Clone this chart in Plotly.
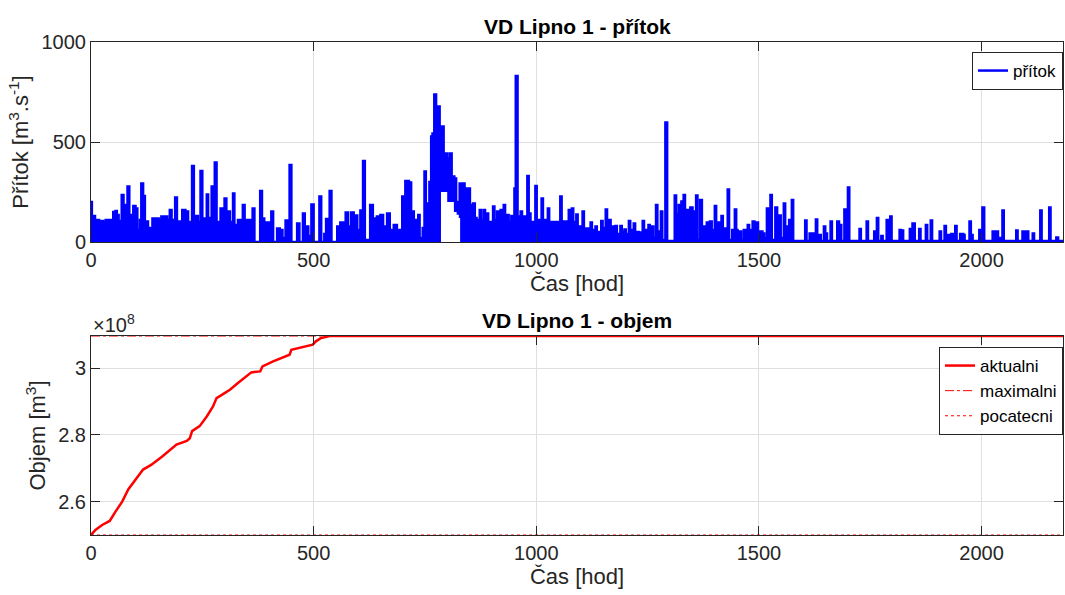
import plotly.graph_objects as go

# ---------------- DATA ----------------
# Inflow (přítok): (hour, m3/s) knots, step-held
inflow_0_360 = [
    (0, 200), (2, 110), (5, 130), (9, 20), (12, 110), (18, 0), (20, 105), (27, 100), (31, 15), (33, 110),
    (40, 95), (44, 110), (48, 20), (50, 150), (55, 155), (58, 135), (62, 60), (66, 105), (69, 235), (73, 100),
    (76, 185), (80, 130), (82, 277), (86, 135), (90, 100), (95, 180), (100, 168), (104, 40), (107, 60), (110, 110),
    (113, 293), (117, 230), (121, 100), (124, 102), (128, 60), (132, 70), (138, 118), (144, 30), (147, 118), (152, 110),
    (158, 127), (164, 0), (166, 127), (171, 110), (177, 160), (181, 110), (189, 222), (193, 30), (196, 102), (202, 0),
    (205, 160), (212, 152), (218, 100), (226, 15), (227, 380), (231, 50), (234, 130), (240, 100), (246, 355), (250, 60),
    (252, 118), (258, 110), (260, 238), (263, 118), (266, 120), (271, 277), (275, 130), (278, 397), (282, 30), (286, 100),
    (291, 168), (296, 110), (300, 218), (304, 60), (306, 152), (312, 100), (319, 243), (322, 85), (326, 60), (330, 110),
    (336, 95), (341, 185), (345, 0), (347, 110), (353, 110),
]
inflow_360_720 = [
    (357, 110), (360, 0), (363, 168), (367, 0), (372, 0), (380, 255), (384, 118), (389, 97), (397, 97), (405, 152),
    (409, 0), (413, 0), (418, 68), (424, 60), (430, 20), (437, 107), (446, 385), (450, 0), (456, 0), (463, 93),
    (468, 0), (476, 143), (480, 0), (484, 77), (488, 30), (495, 188), (500, 0), (505, 0), (513, 227), (517, 0),
    (524, 40), (528, 115), (536, 255), (540, 0), (550, 0), (553, 77), (560, 97), (567, 60), (572, 148), (577, 77),
    (584, 148), (590, 132), (598, 60), (605, 158), (611, 405), (615, 0), (620, 10), (627, 185), (633, 118), (642, 127),
    (650, 135), (656, 77), (665, 143), (671, 60), (680, 85), (687, 60), (699, 227), (706, 305), (714, 298), (719, 100),
]
inflow_720_1090 = [
    (722, 152), (725, 100), (728, 110), (731, 60), (735, 135), (738, 20), (745, 70), (749, 352), (752, 193), (756, 77),
    (760, 300), (764, 527), (767, 543), (771, 738), (775, 668), (779, 677), (783, 560), (788, 577), (792, 443), (800, 418),
    (806, 443), (810, 327), (816, 318), (820, 200), (824, 143), (828, 293), (833, 200), (835, 293), (839, 268), (846, 268),
    (851, 185), (858, 193), (862, 120), (866, 110), (873, 160), (876, 110), (882, 160), (885, 110), (889, 143), (892, 100),
    (903, 177), (906, 110), (912, 152), (915, 110), (920, 160), (923, 110), (927, 185), (930, 100), (935, 135), (938, 100),
    (944, 130), (947, 90), (951, 268), (954, 830), (958, 127), (961, 100), (965, 152), (968, 100), (972, 127), (975, 100),
    (980, 330), (983, 100), (984, 143), (987, 100), (998, 280), (1001, 110), (1012, 218), (1015, 110), (1026, 168), (1029, 100),
    (1043, 85), (1045, 100), (1054, 227), (1057, 102), (1073, 160), (1076, 100), (1080, 168), (1083, 100),
]
inflow_1090_1450 = [
    (1090, 138), (1093, 70), (1097, 77), (1104, 152), (1107, 68), (1114, 68), (1122, 97), (1125, 60), (1133, 77), (1136, 50),
    (1146, 105), (1149, 70), (1156, 163), (1159, 110), (1164, 110), (1167, 60), (1172, 77), (1178, 80), (1181, 40), (1189, 80),
    (1192, 50), (1198, 63), (1201, 40), (1208, 105), (1211, 60), (1219, 93), (1222, 50), (1230, 48), (1239, 105), (1242, 60),
    (1252, 85), (1255, 50), (1260, 77), (1263, 20), (1269, 185), (1272, 50), (1276, 52), (1280, 152), (1283, 10), (1290, 598),
    (1294, 5), (1311, 232), (1314, 140), (1320, 185), (1326, 202), (1331, 235), (1334, 160), (1337, 160), (1346, 173), (1351, 152),
    (1355, 60), (1359, 232), (1362, 10), (1368, 210), (1372, 77), (1383, 97), (1390, 102), (1394, 60), (1401, 180), (1404, 97),
    (1409, 97), (1416, 130), (1419, 68), (1423, 68), (1426, 20), (1430, 263), (1433, 10), (1440, 60), (1446, 163), (1449, 60),
]
inflow_1450_1820 = [
    (1452, 52), (1460, 10), (1466, 60), (1472, 40), (1475, 85), (1478, 50), (1482, 60), (1486, 102), (1490, 70), (1494, 97),
    (1498, 50), (1503, 52), (1508, 43), (1512, 20), (1518, 168), (1521, 40), (1526, 235), (1529, 10), (1537, 173), (1541, 130),
    (1546, 132), (1549, 20), (1556, 193), (1559, 70), (1564, 77), (1568, 110), (1574, 210), (1577, 5), (1604, 107), (1607, 5),
    (1614, 43), (1617, 5), (1622, 43), (1625, 20), (1628, 113), (1631, 5), (1636, 35), (1639, 5), (1646, 77), (1649, 43),
    (1653, 5), (1661, 102), (1664, 5), (1676, 102), (1680, 85), (1685, 5), (1692, 163), (1700, 272), (1703, 5), (1726, 65),
    (1729, 5), (1742, 102), (1745, 5), (1759, 52), (1765, 120), (1768, 5), (1775, 30), (1778, 5), (1787, 110), (1790, 40),
    (1795, 127), (1798, 5), (1816, 60), (1819, 5),
]
inflow_1820_2184 = [
    (1821, 57), (1824, 5), (1839, 65), (1845, 93), (1850, 5), (1860, 65), (1863, 5), (1875, 85), (1878, 5), (1886, 107),
    (1889, 5), (1906, 52), (1909, 5), (1917, 80), (1920, 30), (1925, 35), (1932, 40), (1936, 5), (1941, 80), (1944, 5),
    (1952, 40), (1959, 35), (1962, 5), (1973, 102), (1976, 35), (1980, 5), (1995, 60), (2002, 172), (2006, 5), (2025, 52),
    (2034, 52), (2037, 20), (2047, 157), (2050, 5), (2078, 57), (2081, 5), (2092, 52), (2102, 52), (2105, 5), (2115, 43),
    (2118, 5), (2132, 158), (2135, 5), (2152, 173), (2155, 5), (2168, 23), (2172, 5), (2183, 5),
]
# lower bound of the dense inflow band (values never dropped to 0 in the flood wave)
inflow_floor_hours = [0, 784, 786, 800, 815, 826, 829, 2183]
inflow_floor = [0, 0, 250, 200, 150, 120, 0, 0]

# Volume (objem) of the reservoir [m3]
volume_hours = [0, 10, 25, 42, 55, 70, 84, 100, 117, 135, 160, 192, 215, 222, 227, 244, 260, 274, 282, 300,
                312, 330, 342, 360, 380, 385, 409, 446, 450, 475, 498, 505, 517, 536, 2183]
volume_m3 = [2.500e8, 2.515e8, 2.530e8, 2.542e8, 2.570e8, 2.600e8, 2.637e8, 2.665e8, 2.696e8, 2.710e8,
             2.735e8, 2.771e8, 2.782e8, 2.790e8, 2.811e8, 2.826e8, 2.855e8, 2.885e8, 2.910e8, 2.925e8,
             2.935e8, 2.955e8, 2.967e8, 2.987e8, 2.990e8, 3.005e8, 3.020e8, 3.040e8, 3.055e8, 3.062e8,
             3.070e8, 3.080e8, 3.090e8, 3.096e8, 3.096e8]
max_volume = 3.096e8
initial_volume = 2.500e8
time_end = 2183

x_ticks = [0, 500, 1000, 1500, 2000]
inflow_ticks = [0, 500, 1000]
volume_ticks = [2.6e8, 2.8e8, 3.0e8]
volume_ticktext = ["2.6", "2.8", "3"]

# ---------------- FIGURE ----------------
knots = inflow_0_360 + inflow_360_720 + inflow_720_1090 + inflow_1090_1450 + inflow_1450_1820 + inflow_1820_2184
inflow_hours = [k[0] for k in knots]
inflow_vals = [k[1] for k in knots]

BLUE = "#0000FF"
RED = "#FF0000"
AX = "#262626"
GRID = "#dfdfdf"
FONT = "Liberation Sans, Arial, sans-serif"

fig = go.Figure()
fig.add_trace(go.Scatter(x=inflow_floor_hours, y=inflow_floor, mode="lines",
                         line=dict(width=0, shape="hv", color=BLUE), showlegend=False,
                         hoverinfo="skip", xaxis="x", yaxis="y"))
fig.add_trace(go.Scatter(x=inflow_hours, y=inflow_vals, mode="lines",
                         line=dict(color=BLUE, width=2.5, shape="hv"), fill="tonexty",
                         fillcolor=BLUE, showlegend=False, xaxis="x", yaxis="y"))
fig.add_trace(go.Scatter(x=[None], y=[None], mode="lines", name="přítok",
                         line=dict(color=BLUE, width=2.5), legend="legend", xaxis="x", yaxis="y"))

fig.add_trace(go.Scatter(x=volume_hours, y=volume_m3, mode="lines", name="aktualni",
                         line=dict(color=RED, width=2.5), legend="legend2", xaxis="x2", yaxis="y2"))
fig.add_trace(go.Scatter(x=[0, time_end], y=[max_volume, max_volume], mode="lines", name="maximalni",
                         line=dict(color=RED, width=1, dash="dashdot"), legend="legend2", xaxis="x2", yaxis="y2"))
fig.add_trace(go.Scatter(x=[0, time_end], y=[initial_volume, initial_volume], mode="lines", name="pocatecni",
                         line=dict(color=RED, width=1, dash="dot"), legend="legend2", xaxis="x2", yaxis="y2"))

W, H = 1065, 595
mt, mb = 42, 60
ph = H - mt - mb
top_lo = (535 - 242) / ph
bot_hi = (535 - 336) / ph

axis_common = dict(showline=True, linecolor=AX, linewidth=1, mirror="ticks", ticks="inside",
                   ticklen=9, tickcolor=AX, tickwidth=1, showgrid=True, gridcolor=GRID, gridwidth=1,
                   zeroline=False, automargin=False, tickfont=dict(size=20, color=AX, family=FONT))
title_font = dict(size=22, color=AX, family=FONT)
legend_font = dict(size=17, color="black", family=FONT)

fig.update_layout(
    width=W, height=H,
    margin=dict(l=91, r=2, t=mt, b=mb),
    paper_bgcolor="white", plot_bgcolor="white",
    font=dict(family=FONT, color=AX),
    xaxis=dict(domain=[0, 1], anchor="y", range=[0, time_end], tickvals=x_ticks,
               title=dict(text="Čas [hod]", font=title_font, standoff=2), **axis_common),
    yaxis=dict(domain=[top_lo, 1], anchor="x", range=[0, 1000], tickvals=inflow_ticks,
               title=dict(text="Přítok [m<sup>3</sup>.s<sup>-1</sup>]", font=title_font, standoff=6),
               **axis_common),
    xaxis2=dict(domain=[0, 1], anchor="y2", range=[0, time_end], tickvals=x_ticks,
                title=dict(text="Čas [hod]", font=title_font, standoff=2), **axis_common),
    yaxis2=dict(domain=[0, bot_hi], anchor="x2", range=[initial_volume, max_volume],
                tickvals=volume_ticks, ticktext=volume_ticktext,
                title=dict(text="Objem [m<sup>3</sup>]", font=title_font, standoff=6),
                **axis_common),
    legend=dict(x=1, xanchor="right", y=1 - 10 / ph, yanchor="top", bgcolor="white",
                bordercolor=AX, borderwidth=1, font=legend_font, tracegroupgap=0),
    legend2=dict(x=1, xanchor="right", y=bot_hi - 11 / ph, yanchor="top", bgcolor="white",
                 bordercolor=AX, borderwidth=1, font=legend_font, tracegroupgap=0),
    annotations=[
        dict(text="<b>VD Lipno 1 - přítok</b>", x=0.5, y=1, xref="paper", yref="paper",
             xanchor="center", yanchor="bottom", yshift=2, showarrow=False,
             font=dict(size=21, color="black", family=FONT)),
        dict(text="<b>VD Lipno 1 - objem</b>", x=0.5, y=bot_hi, xref="paper", yref="paper",
             xanchor="center", yanchor="bottom", yshift=2, showarrow=False,
             font=dict(size=21, color="black", family=FONT)),
        dict(text="×10<sup>8</sup>", x=0, y=bot_hi, xref="paper", yref="paper",
             xanchor="left", yanchor="bottom", yshift=-2, showarrow=False,
             font=dict(size=20, color=AX, family=FONT)),
    ],
)

fig.write_html("out.html", config={"displayModeBar": False},
               post_script="document.body.style.margin='0';document.body.style.overflow='hidden';")
